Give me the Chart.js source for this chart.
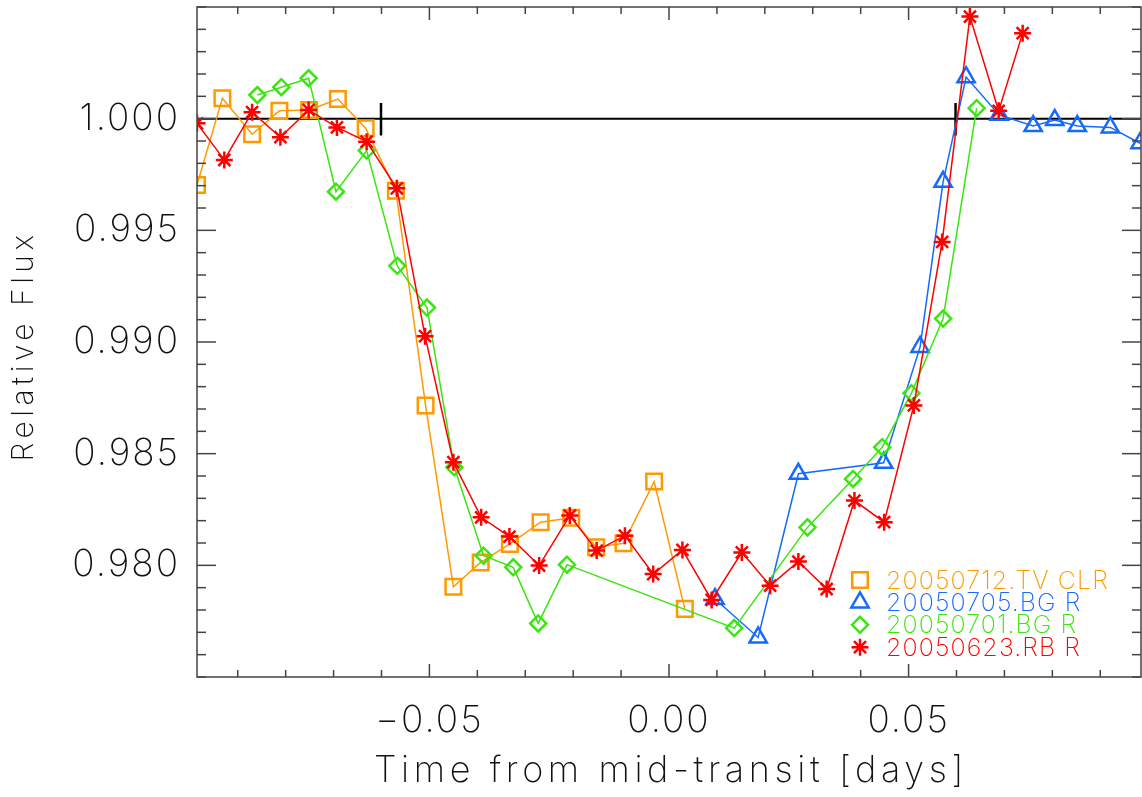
<!DOCTYPE html>
<html>
<head>
<meta charset="utf-8">
<script src="https://cdn.jsdelivr.net/npm/chart.js@4.4.1/dist/chart.umd.min.js"></script>
<style>
  html, body { margin: 0; padding: 0; background: #fff; overflow: hidden; }
  canvas { display: block; }
</style>
</head>
<body>
<canvas id="lc" width="1142" height="797"></canvas>
<script>
// time from mid-transit [days] and relative flux, per night
const tvClrTime = [-0.0985, -0.0932, -0.0870, -0.0813, -0.0751, -0.0691, -0.0633, -0.0570, -0.0508, -0.0450,
  -0.0393, -0.0332, -0.0268, -0.0204, -0.0152, -0.0095, -0.0031, 0.0033];
const tvClrFlux = [0.99703, 1.00091, 0.99930, 1.00035, 1.00039, 1.00088, 0.99957, 0.99677, 0.98716, 0.97904,
  0.98013, 0.98096, 0.98193, 0.98213, 0.98081, 0.98099, 0.98375, 0.97805];

const bg0705Time = [0.0096, 0.0186, 0.0270, 0.0448, 0.0524, 0.0572, 0.0620, 0.0689, 0.0760, 0.0805, 0.0852, 0.0921, 0.0983];
const bg0705Flux = [0.97849, 0.97677, 0.98410, 0.98459, 0.98978, 0.99717, 1.00186, 1.00017, 0.99967, 0.99994, 0.99967, 0.99961, 0.99890];

const bg0701Time = [-0.0859, -0.0809, -0.0752, -0.0695, -0.0631, -0.0567, -0.0505, -0.0448, -0.0387, -0.0325,
  -0.0273, -0.0213, 0.0136, 0.0289, 0.0384, 0.0445, 0.0506, 0.0572, 0.0642];
const bg0701Flux = [1.00106, 1.00141, 1.00181, 0.99673, 0.99857, 0.99341, 0.99154, 0.98439, 0.98043, 0.97991,
  0.97740, 0.98003, 0.97719, 0.98170, 0.98387, 0.98529, 0.98771, 0.99105, 1.00047];

const rb0623Time = [-0.0985, -0.0928, -0.0870, -0.0811, -0.0752, -0.0693, -0.0631, -0.0568, -0.0509, -0.0450,
  -0.0392, -0.0333, -0.0271, -0.0207, -0.0151, -0.0092, -0.0033, 0.0028, 0.0089, 0.0152,
  0.0211, 0.0270, 0.0329, 0.0387, 0.0449, 0.0511, 0.0570, 0.0628, 0.0688, 0.0738];
const rb0623Flux = [0.99979, 0.99815, 1.00029, 0.99917, 1.00039, 0.99961, 0.99897, 0.99688, 0.99026, 0.98462,
  0.98215, 0.98129, 0.97999, 0.98223, 0.98066, 0.98133, 0.97961, 0.98069, 0.97845, 0.98058,
  0.97909, 0.98017, 0.97894, 0.98290, 0.98193, 0.98716, 0.99448, 1.00457, 1.00035, 1.00383];

const seriesNames = ["20050712.TV CLR", "20050705.BG R", "20050701.BG R", "20050623.RB R"];

// contact points and out-of-transit level
const contactTimes = [-0.0601, 0.0598];
const contactSpan = [1.0007, 0.99925];
const baseLevel = 1.0;

const xRange = [-0.0985, 0.0985];
const yRange = [0.975, 1.005];
const xMajorTicks = [-0.05, 0.00, 0.05];
const yMajorTicks = [0.980, 0.985, 0.990, 0.995, 1.000];
const xMinorStep = 0.01;
const yMinorStep = 0.001;
const xTitle = "Time from mid-transit [days]";
const yTitle = "Relative Flux";

const FONT = 'Inter, "DejaVu Sans", sans-serif';
const WEIGHT = "200";

const pts = (t, f) => t.map((v, i) => ({ x: v, y: f[i] }));

function series(label, t, f, color, style, r, order) {
  return {
    label: label,
    data: pts(t, f),
    borderColor: color,
    backgroundColor: "rgba(0,0,0,0)",
    borderWidth: 1.5,
    pointStyle: style,
    pointRadius: r,
    pointBorderWidth: 2.5,
    pointBorderColor: color,
    pointBackgroundColor: "rgba(0,0,0,0)",
    order: order,
  };
}

const datasets = [
  series(seriesNames[0], tvClrTime, tvClrFlux, "#ff9900", "rect", 11, 3),
  series(seriesNames[1], bg0705Time, bg0705Flux, "#1469ff", "triangle", 10, 2),
  series(seriesNames[2], bg0701Time, bg0701Flux, "#3ae60f", "rectRot", 8, 1),
  series(seriesNames[3], rb0623Time, rb0623Flux, "#ff0000", "star", 8.5, 0),
  {
    label: "level",
    data: [{ x: xRange[0], y: baseLevel }, { x: xRange[1], y: baseLevel }],
    borderColor: "#000", borderWidth: 2, pointRadius: 0, order: 5,
  },
];
contactTimes.forEach((t) => {
  datasets.push({
    label: "contact",
    data: contactSpan.map((v) => ({ x: t, y: v })),
    borderColor: "#000", borderWidth: 2.5, pointRadius: 0, order: 5,
  });
});

// wide, thin lettering like the original plot font
const spacing = {
  id: "spacing",
  beforeDraw(chart) { chart.ctx.letterSpacing = "2px"; },
};

// frame with inward ticks on all four sides, plus the axis titles
const frameTicks = {
  id: "frameTicks",
  afterDraw(chart) {
    const { ctx, chartArea: a, scales: { x, y } } = chart;
    ctx.save();
    ctx.strokeStyle = "#444";
    ctx.lineWidth = 1.5;
    ctx.strokeRect(a.left, a.top, a.right - a.left, a.bottom - a.top);
    const tick = (x1, y1, x2, y2) => { ctx.beginPath(); ctx.moveTo(x1, y1); ctx.lineTo(x2, y2); ctx.stroke(); };
    for (let v = Math.ceil(xRange[0] / xMinorStep) * xMinorStep; v <= xRange[1]; v += xMinorStep) {
      const px = x.getPixelForValue(v);
      const major = xMajorTicks.some((m) => Math.abs(m - v) < 1e-6);
      const len = major ? 13 : 7;
      tick(px, a.bottom, px, a.bottom - len);
      tick(px, a.top, px, a.top + len);
    }
    for (let v = Math.ceil(yRange[0] / yMinorStep) * yMinorStep; v <= yRange[1] + 1e-9; v += yMinorStep) {
      const py = y.getPixelForValue(v);
      const major = yMajorTicks.some((m) => Math.abs(m - v) < 1e-6);
      const len = major ? 19 : 9;
      tick(a.left, py, a.left + len, py);
      tick(a.right, py, a.right - len, py);
    }

    ctx.fillStyle = "#111";
    ctx.textAlign = "center";
    ctx.textBaseline = "alphabetic";
    ctx.font = WEIGHT + " 36px " + FONT;
    ctx.letterSpacing = "4.6px";
    ctx.fillText(xTitle, (a.left + a.right) / 2 + 2, 782);

    ctx.translate(33, (a.top + a.bottom) / 2 + 4);
    ctx.rotate(-Math.PI / 2);
    ctx.font = WEIGHT + " 30px " + FONT;
    ctx.letterSpacing = "4.5px";
    ctx.fillText(yTitle, 0, 0);
    ctx.restore();
  },
};

// legend in the lower right corner, text in series colour
const cornerLegend = {
  id: "cornerLegend",
  afterDatasetsDraw(chart) {
    const { ctx, chartArea: a } = chart;
    ctx.save();
    ctx.font = WEIGHT + " 25px " + FONT;
    ctx.letterSpacing = "1.1px";
    ctx.textBaseline = "middle";
    ctx.textAlign = "left";
    for (let i = 0; i < 4; i++) {
      const ds = chart.data.datasets[i];
      const cy = a.bottom - 97 + i * 22.4;
      const mx = a.right - 281;
      ctx.strokeStyle = ds.borderColor;
      ctx.fillStyle = "rgba(0,0,0,0)";
      ctx.lineWidth = 2.5;
      Chart.helpers.drawPoint(ctx, {
        pointStyle: ds.pointStyle, radius: ds.pointRadius, rotation: 0, borderWidth: 2.5,
      }, mx, cy);
      ctx.fillStyle = ds.borderColor;
      ctx.fillText(ds.label, mx + 26, cy + 1);
    }
    ctx.restore();
  },
};

const noPad = (s) => { s.paddingTop = 0; s.paddingBottom = 0; s.paddingLeft = 0; s.paddingRight = 0; };

new Chart(document.getElementById("lc"), {
  type: "line",
  data: { datasets: datasets },
  options: {
    responsive: false,
    animation: false,
    devicePixelRatio: 1,
    layout: { autoPadding: false, padding: { top: 7, right: 1, left: 0, bottom: 0 } },
    plugins: { legend: { display: false }, tooltip: { enabled: false } },
    scales: {
      x: {
        type: "linear",
        min: xRange[0],
        max: xRange[1],
        afterFit: (s) => { s.height = 120; noPad(s); },
        afterBuildTicks: (s) => { s.ticks = xMajorTicks.map((v) => ({ value: v })); },
        grid: { display: false, drawTicks: false },
        border: { display: false },
        ticks: {
          padding: 22,
          color: "#111",
          font: { family: FONT, size: 37, weight: WEIGHT },
          maxRotation: 0,
          callback: (v) => (v < 0 ? "\u2212" : "") + Math.abs(v).toFixed(2),
        },
      },
      y: {
        type: "linear",
        min: yRange[0],
        max: yRange[1],
        afterFit: (s) => { s.width = 197; noPad(s); },
        afterBuildTicks: (s) => { s.ticks = yMajorTicks.map((v) => ({ value: v })); },
        grid: { display: false, drawTicks: false },
        border: { display: false },
        ticks: {
          padding: 17,
          color: "#111",
          font: { family: FONT, size: 37, weight: WEIGHT },
          callback: (v) => v.toFixed(3),
        },
      },
    },
  },
  plugins: [spacing, frameTicks, cornerLegend],
});
</script>
</body>
</html>
